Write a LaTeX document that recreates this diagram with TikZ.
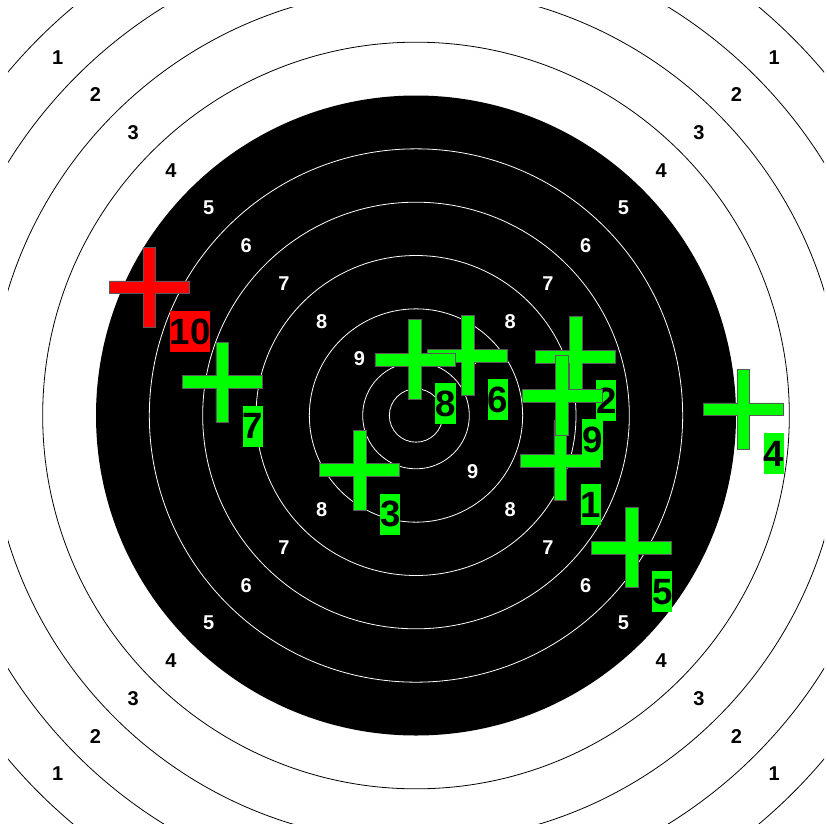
\documentclass[tikz,border=0pt]{standalone}
\usepackage{fontspec}
\setmainfont{Liberation Sans}
\definecolor{hitgreen}{RGB}{0,255,0}
\definecolor{hitred}{RGB}{255,0,0}
\newcommand\hitmark[5]{%
  \begin{scope}[shift={(#2,#3)}]
    \coordinate (#1) at (0,0);
    \filldraw[crossshape, fill=#5] (-40,-6.4) -- (-6.4,-6.4) -- (-6.4,-40) -- (6.4,-40) -- (6.4,-6.4) -- (40,-6.4) -- (40,6.4) -- (6.4,6.4) -- (6.4,40) -- (-6.4,40) -- (-6.4,6.4) -- (-40,6.4) -- cycle;
    \node[hitlabel, fill=#5] (#1l) at (20.3,23.5) {#4};
  \end{scope}}
\begin{document}
\begin{tikzpicture}[x=1pt,y=-1pt,
  ringnum/.style={font=\fontsize{20}{20}\selectfont\bfseries, inner sep=0pt},
  hitlabel/.style={font=\fontsize{36.6}{36.6}\selectfont\bfseries, inner sep=0pt, text height=33.1pt, text depth=7.8pt, anchor=north west, text=black},
  crossshape/.style={draw=black!65, line width=0.6pt},
  outerring/.style={draw=black, line width=0.8pt},
  innerring/.style={draw=white, line width=0.8pt}]
\useasboundingbox (0,0) rectangle (827,831);
\fill[white] (0,0) rectangle (827,831);
\coordinate (c) at (416,415.5);
\begin{scope}
  \clip (8,7.5) rectangle (824,823.5);
  \foreach \r in {373.33,426.67,480,533.33} \draw[outerring] (c) circle[radius=\r pt];
  \fill[black] (c) circle[radius=320pt];
  \foreach \r in {26.67,53.33,106.67,160,213.33,266.67} \draw[innerring] (c) circle[radius=\r pt];
\end{scope}
\foreach \n in {1,...,9} {
  \pgfmathsetmacro\d{53.333*(10.5-\n)/sqrt(2)}
  \ifnum\n<5 \def\col{black}\else\def\col{white}\fi
  \node[ringnum, text=\col] (nw\n) at ([shift={(-\d,-\d)}]c) {\n};
  \node[ringnum, text=\col] (ne\n) at ([shift={(\d,-\d)}]c) {\n};
  \node[ringnum, text=\col] (sw\n) at ([shift={(-\d,\d)}]c) {\n};
  \node[ringnum, text=\col] (se\n) at ([shift={(\d,\d)}]c) {\n};
}
\hitmark{h1}{560.3}{460.5}{1}{hitgreen}
\hitmark{h2}{575.5}{356.5}{2}{hitgreen}
\hitmark{h3}{359.5}{470}{3}{hitgreen}
\hitmark{h4}{743.3}{409.3}{4}{hitgreen}
\hitmark{h5}{631.6}{547.6}{5}{hitgreen}
\hitmark{h6}{467.4}{355.4}{6}{hitgreen}
\hitmark{h7}{222.3}{382}{7}{hitgreen}
\hitmark{h8}{414.8}{359.6}{8}{hitgreen}
\hitmark{h9}{561.8}{395.7}{9}{hitgreen}
\hitmark{h10}{149.2}{287.3}{10}{hitred}
\end{tikzpicture}
\end{document}
